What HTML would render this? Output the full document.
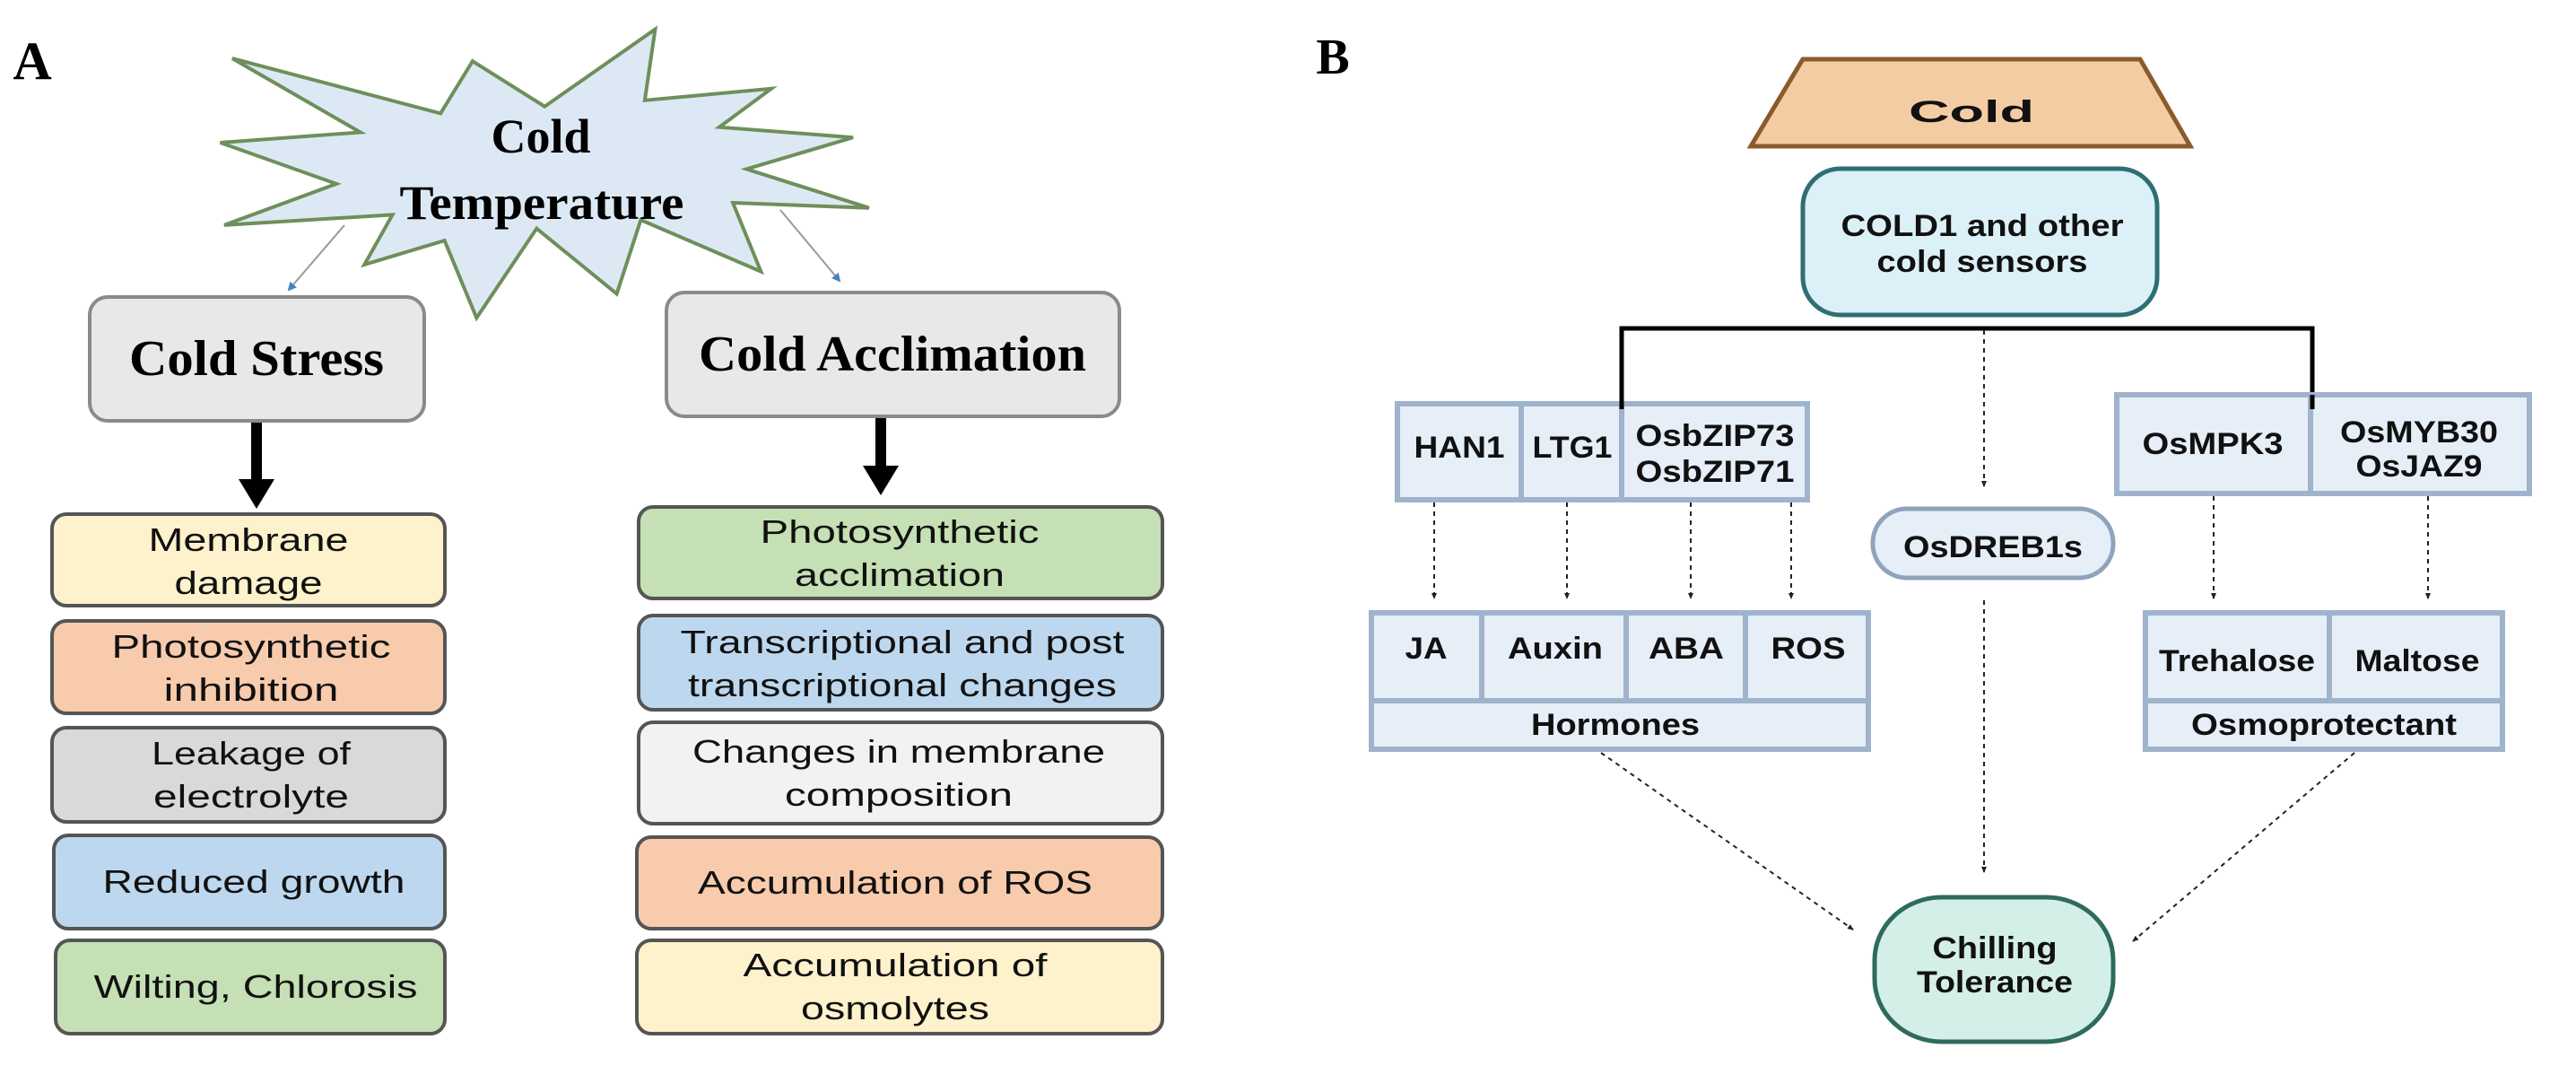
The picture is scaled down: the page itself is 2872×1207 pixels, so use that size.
<!DOCTYPE html>
<html><head><meta charset="utf-8"><style>
html,body{margin:0;padding:0;background:#fff}
svg{display:block}
.a{font-family:"Liberation Sans",sans-serif;font-size:36px;fill:#111;text-anchor:middle}
.b{font-family:"Liberation Sans",sans-serif;font-weight:bold;font-size:34px;fill:#111;text-anchor:middle}
.t{font-family:"Liberation Serif",serif;font-weight:bold;fill:#000;text-anchor:middle}
</style></head><body>
<svg width="2872" height="1207" viewBox="0 0 2872 1207" xmlns="http://www.w3.org/2000/svg">
<defs>
<marker id="bl" markerWidth="10" markerHeight="10" refX="8" refY="5" orient="auto" markerUnits="userSpaceOnUse"><path d="M0,0 L10,5 L0,10 z" fill="#4a7fc8"/></marker>
<marker id="dk" markerWidth="8" markerHeight="8" refX="6" refY="4" orient="auto" markerUnits="userSpaceOnUse"><path d="M0,1 L7,4 L0,7 z" fill="#222"/></marker>
</defs>
<rect width="2872" height="1207" fill="#fff"/>

<!-- Panel A -->
<text x="36" y="88" class="t" font-size="60">A</text>
<g transform="scale(0.893,0.383)">
<polygon vector-effect="non-scaling-stroke" fill="#dce9f5" stroke="#6e8f5a" stroke-width="4"
points="818,85 805,292 963,258 898,370 1065,400 932,492 1085,605 915,590 950,790 800,640 770,855 670,665 595,925 555,700 455,770 490,625 280,655 420,535 275,415 450,385 290,170 550,330 590,178 680,310"/>
</g>
<text x="603" y="170" class="t" font-size="54">Cold</text>
<text x="604" y="244" class="t" font-size="54" textLength="317" lengthAdjust="spacingAndGlyphs">Temperature</text>
<line x1="384" y1="251" x2="322" y2="323" stroke="#999" stroke-width="2" marker-end="url(#bl)"/>
<line x1="870" y1="234" x2="936" y2="313" stroke="#999" stroke-width="2" marker-end="url(#bl)"/>

<rect x="100" y="331" width="373" height="138" rx="20" fill="#e8e8e8" stroke="#8a8a8a" stroke-width="4"/>
<text x="286" y="418" class="t" font-size="56" textLength="284" lengthAdjust="spacingAndGlyphs">Cold Stress</text>
<rect x="743" y="326" width="505" height="138" rx="20" fill="#e8e8e8" stroke="#8a8a8a" stroke-width="4"/>
<text x="995" y="413" class="t" font-size="56" textLength="432" lengthAdjust="spacingAndGlyphs">Cold Acclimation</text>

<rect x="280" y="471" width="12" height="66" fill="#000"/><polygon points="266,534 306,534 286,567" fill="#000"/>
<rect x="976" y="466" width="12" height="56" fill="#000"/><polygon points="962,519 1002,519 982,552" fill="#000"/>

<g stroke="#555" stroke-width="4">
<rect x="58" y="573" width="438" height="102" rx="16" fill="#fdf2cc"/>
<rect x="58" y="692" width="438" height="103" rx="16" fill="#f8cbad"/>
<rect x="58" y="811" width="438" height="105" rx="16" fill="#d9d9d9"/>
<rect x="60" y="931" width="436" height="104" rx="16" fill="#bdd7ee"/>
<rect x="62" y="1048" width="434" height="104" rx="16" fill="#c5e0b4"/>
<rect x="712" y="565" width="584" height="102" rx="16" fill="#c5e0b4"/>
<rect x="712" y="686" width="584" height="105" rx="16" fill="#bdd7ee"/>
<rect x="712" y="805" width="584" height="113" rx="16" fill="#f2f2f2"/>
<rect x="710" y="933" width="586" height="102" rx="16" fill="#f8cbad"/>
<rect x="710" y="1048" width="586" height="104" rx="16" fill="#fdf2cc"/>
</g>
<text x="277" y="614" class="a" textLength="223" lengthAdjust="spacingAndGlyphs">Membrane</text>
<text x="277" y="662" class="a" textLength="165" lengthAdjust="spacingAndGlyphs">damage</text>
<text x="280" y="733" class="a" textLength="311" lengthAdjust="spacingAndGlyphs">Photosynthetic</text>
<text x="280" y="781" class="a" textLength="195" lengthAdjust="spacingAndGlyphs">inhibition</text>
<text x="280" y="852" class="a" textLength="222" lengthAdjust="spacingAndGlyphs">Leakage of</text>
<text x="280" y="900" class="a" textLength="218" lengthAdjust="spacingAndGlyphs">electrolyte</text>
<text x="283" y="995" class="a" textLength="337" lengthAdjust="spacingAndGlyphs">Reduced growth</text>
<text x="285" y="1112" class="a" textLength="361" lengthAdjust="spacingAndGlyphs">Wilting, Chlorosis</text>

<text x="1003" y="605" class="a" textLength="311" lengthAdjust="spacingAndGlyphs">Photosynthetic</text>
<text x="1003" y="653" class="a" textLength="234" lengthAdjust="spacingAndGlyphs">acclimation</text>
<text x="1006" y="728" class="a" textLength="495" lengthAdjust="spacingAndGlyphs">Transcriptional and post</text>
<text x="1006" y="776" class="a" textLength="478" lengthAdjust="spacingAndGlyphs">transcriptional changes</text>
<text x="1002" y="850" class="a" textLength="460" lengthAdjust="spacingAndGlyphs">Changes in membrane</text>
<text x="1002" y="898" class="a" textLength="254" lengthAdjust="spacingAndGlyphs">composition</text>
<text x="998" y="996" class="a" textLength="440" lengthAdjust="spacingAndGlyphs">Accumulation of ROS</text>
<text x="998" y="1088" class="a" textLength="339" lengthAdjust="spacingAndGlyphs">Accumulation of</text>
<text x="998" y="1136" class="a" textLength="210" lengthAdjust="spacingAndGlyphs">osmolytes</text>

<!-- Panel B -->
<text x="1486" y="82" class="t" font-size="56">B</text>
<polygon points="2010,66 2386,66 2442,163 1952,163" fill="#f4cca4" stroke="#8b5a2b" stroke-width="5"/>
<text x="2198" y="136" class="b" font-size="58" textLength="140" lengthAdjust="spacingAndGlyphs">Cold</text>

<rect x="2010" y="188" width="395" height="163" rx="42" fill="#dcf0f7" stroke="#2f6f73" stroke-width="5"/>
<text x="2210" y="263" class="b" textLength="315" lengthAdjust="spacingAndGlyphs">COLD1 and other</text>
<text x="2210" y="303" class="b" textLength="235" lengthAdjust="spacingAndGlyphs">cold sensors</text>

<polyline points="1808,450 1808,366 2578,366 2578,442" fill="none" stroke="#000" stroke-width="5"/>

<g stroke="#222" stroke-width="2" stroke-dasharray="5,5" fill="none">
<line x1="2212" y1="368" x2="2212" y2="542" marker-end="url(#dk)"/>
<line x1="1599" y1="560" x2="1599" y2="667" marker-end="url(#dk)"/>
<line x1="1747" y1="560" x2="1747" y2="667" marker-end="url(#dk)"/>
<line x1="1885" y1="560" x2="1885" y2="667" marker-end="url(#dk)"/>
<line x1="1997" y1="560" x2="1997" y2="667" marker-end="url(#dk)"/>
<line x1="2468" y1="553" x2="2468" y2="667" marker-end="url(#dk)"/>
<line x1="2707" y1="553" x2="2707" y2="667" marker-end="url(#dk)"/>
<line x1="2212" y1="669" x2="2212" y2="972" marker-end="url(#dk)"/>
<line x1="1785" y1="839" x2="2066" y2="1036" marker-end="url(#dk)"/>
<line x1="2625" y1="839" x2="2378" y2="1049" marker-end="url(#dk)"/>
</g>

<g fill="#e6eef8" stroke="#9fb3cc" stroke-width="6">
<rect x="1558" y="450" width="457" height="107"/>
<line x1="1696" y1="450" x2="1696" y2="557"/>
<line x1="1808" y1="450" x2="1808" y2="557"/>
<rect x="2360" y="440" width="460" height="110"/>
<line x1="2576" y1="440" x2="2576" y2="550"/>
<rect x="1529" y="683" width="554" height="152"/>
<line x1="1529" y1="781" x2="2083" y2="781"/>
<line x1="1652" y1="683" x2="1652" y2="781"/>
<line x1="1813" y1="683" x2="1813" y2="781"/>
<line x1="1946" y1="683" x2="1946" y2="781"/>
<rect x="2392" y="683" width="398" height="152"/>
<line x1="2392" y1="781" x2="2790" y2="781"/>
<line x1="2597" y1="683" x2="2597" y2="781"/>
</g>
<line x1="1808" y1="440" x2="1808" y2="456" stroke="#000" stroke-width="5"/>
<line x1="2578" y1="440" x2="2578" y2="456" stroke="#000" stroke-width="5"/>

<rect x="2088" y="567" width="268" height="77" rx="38" fill="#e6eef8" stroke="#8fa3bd" stroke-width="5"/>
<text x="2222" y="621" class="b" textLength="200" lengthAdjust="spacingAndGlyphs">OsDREB1s</text>

<text x="1627" y="510" class="b" textLength="101" lengthAdjust="spacingAndGlyphs">HAN1</text>
<text x="1753" y="510" class="b" textLength="89" lengthAdjust="spacingAndGlyphs">LTG1</text>
<text x="1912" y="497" class="b" textLength="177" lengthAdjust="spacingAndGlyphs">OsbZIP73</text>
<text x="1912" y="537" class="b" textLength="177" lengthAdjust="spacingAndGlyphs">OsbZIP71</text>
<text x="2467" y="506" class="b" textLength="157" lengthAdjust="spacingAndGlyphs">OsMPK3</text>
<text x="2697" y="493" class="b" textLength="176" lengthAdjust="spacingAndGlyphs">OsMYB30</text>
<text x="2697" y="531" class="b" textLength="141" lengthAdjust="spacingAndGlyphs">OsJAZ9</text>

<text x="1590" y="734" class="b" textLength="47" lengthAdjust="spacingAndGlyphs">JA</text>
<text x="1734" y="734" class="b" textLength="106" lengthAdjust="spacingAndGlyphs">Auxin</text>
<text x="1880" y="734" class="b" textLength="84" lengthAdjust="spacingAndGlyphs">ABA</text>
<text x="2016" y="734" class="b" textLength="83" lengthAdjust="spacingAndGlyphs">ROS</text>
<text x="1801" y="819" class="b" textLength="188" lengthAdjust="spacingAndGlyphs">Hormones</text>
<text x="2494" y="748" class="b" textLength="174" lengthAdjust="spacingAndGlyphs">Trehalose</text>
<text x="2695" y="748" class="b" textLength="139" lengthAdjust="spacingAndGlyphs">Maltose</text>
<text x="2591" y="819" class="b" textLength="296" lengthAdjust="spacingAndGlyphs">Osmoprotectant</text>

<rect x="2090" y="1000" width="266" height="161" rx="75" ry="70" fill="#d4eee8" stroke="#2e6b5e" stroke-width="5"/>
<text x="2224" y="1068" class="b" textLength="139" lengthAdjust="spacingAndGlyphs">Chilling</text>
<text x="2224" y="1106" class="b" textLength="174" lengthAdjust="spacingAndGlyphs">Tolerance</text>
</svg>
</body></html>
